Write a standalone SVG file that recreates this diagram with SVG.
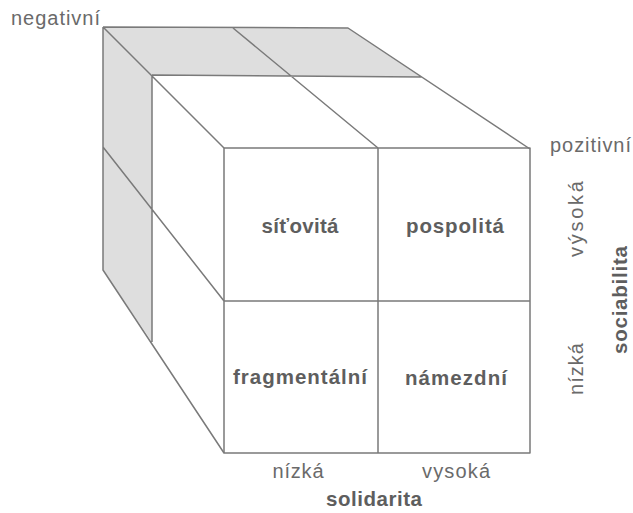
<svg xmlns="http://www.w3.org/2000/svg" width="633" height="513" viewBox="0 0 633 513">
<style>
.ln{stroke:#7a7a7a;stroke-width:1.5;fill:none;stroke-linejoin:round}
.sh{fill:#dedede;stroke:none}
.wf{fill:#ffffff;stroke:none}
.t{font-family:"Liberation Sans",Arial,sans-serif;font-size:20px;fill:#6a6a6a}
.b{font-family:"Liberation Sans",Arial,sans-serif;font-size:20.5px;font-weight:bold;fill:#5e5e5e}
</style>
<rect width="633" height="513" fill="#ffffff"/>
<g id="cube-faces">
<polygon class="sh" points="103,27 152,75 152,342 103,270"/>
<polygon class="sh" points="103,27 348,28 422,77 152,75"/>
<polygon class="wf" points="152,75 422,77 530,149 224,148"/>
<polygon class="wf" points="152,75 224,148 224,453 152,342"/>
</g>
<g id="connectors">
<path class="ln" d="M103,27 L348,28 L530,149 M103,27 L103,270 L224,453 M103,27 L224,148 M152,75 L422,77 M152,75 L152,342 M233,28 L378,148 M103,147 L224,301"/>
<rect class="ln" x="224" y="148" width="306" height="305"/>
<path class="ln" d="M378,148 L378,453 M224,301 L530,301"/>
</g>
<g id="node-sitovita"><text class="b" x="300" y="233" text-anchor="middle" textLength="77" lengthAdjust="spacing">síťovitá</text></g>
<g id="node-pospolita"><text class="b" x="455" y="233" text-anchor="middle" textLength="98" lengthAdjust="spacing">pospolitá</text></g>
<g id="node-fragmentalni"><text class="b" x="300" y="384" text-anchor="middle" textLength="134" lengthAdjust="spacing">fragmentální</text></g>
<g id="node-namezdni"><text class="b" x="456" y="385" text-anchor="middle" textLength="102" lengthAdjust="spacing">námezdní</text></g>
<g id="labels">
<text class="t" x="11" y="25" textLength="89" lengthAdjust="spacing">negativní</text>
<text class="t" x="550" y="152" textLength="81" lengthAdjust="spacing">pozitivní</text>
<text class="t" x="298" y="478" text-anchor="middle" textLength="51" lengthAdjust="spacing">nízká</text>
<text class="t" x="456" y="478" text-anchor="middle" textLength="68" lengthAdjust="spacing">vysoká</text>
<text class="b" x="374" y="506" text-anchor="middle" textLength="96" lengthAdjust="spacing">solidarita</text>
<text class="t" transform="translate(583,219) rotate(-90)" text-anchor="middle" textLength="76" lengthAdjust="spacing">výsoká</text>
<text class="t" transform="translate(583,369) rotate(-90)" text-anchor="middle" textLength="52" lengthAdjust="spacing">nízká</text>
<text class="b" transform="translate(627,300) rotate(-90)" text-anchor="middle" textLength="108" lengthAdjust="spacing">sociabilita</text>
</g>
</svg>
